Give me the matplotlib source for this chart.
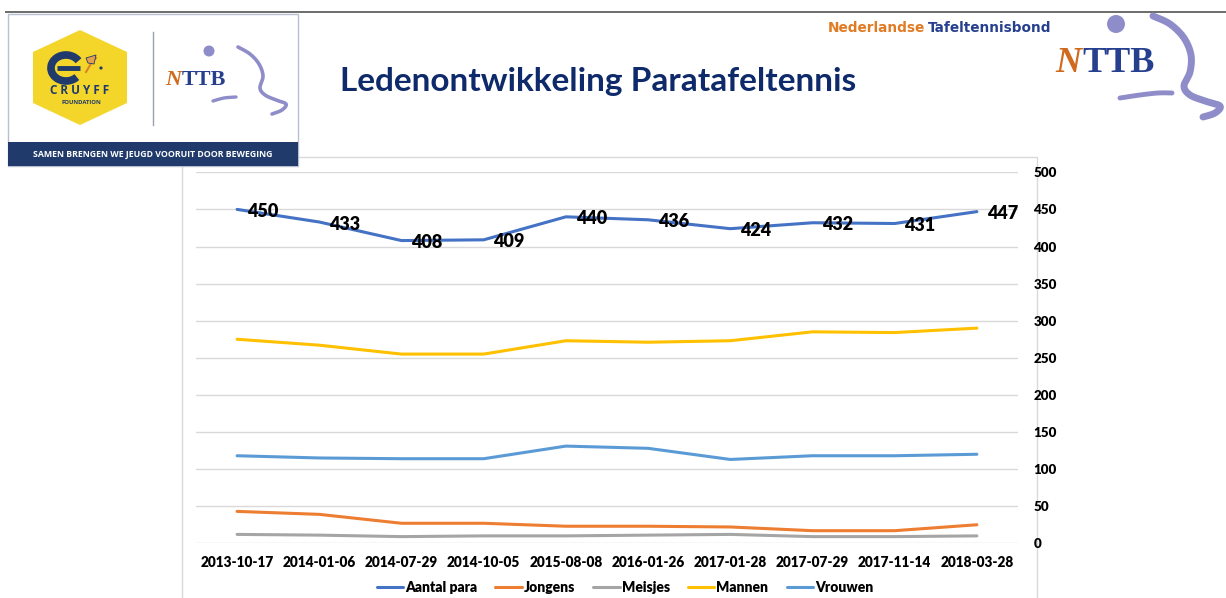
import matplotlib
matplotlib.use("Agg")
import matplotlib.pyplot as plt
from matplotlib.patches import Polygon, Rectangle, Circle, Arc
import numpy as np

# ---------------- data ----------------
dates = ["2013-10-17", "2014-01-06", "2014-07-29", "2014-10-05", "2015-08-08",
         "2016-01-26", "2017-01-28", "2017-07-29", "2017-11-14", "2018-03-28"]
aantal_para = [450, 433, 408, 409, 440, 436, 424, 432, 431, 447]
jongens = [43, 39, 27, 27, 23, 23, 22, 17, 17, 25]
meisjes = [12, 11, 9, 10, 10, 11, 12, 9, 9, 10]
mannen = [275, 267, 255, 255, 273, 271, 273, 285, 284, 290]
vrouwen = [118, 115, 114, 114, 131, 128, 113, 118, 118, 120]
series_names = ["Aantal para", "Jongens", "Meisjes", "Mannen", "Vrouwen"]
y_ticks = [0, 50, 100, 150, 200, 250, 300, 350, 400, 450, 500]
title = "Ledenontwikkeling Paratafeltennis"

colors = ["#4472C4", "#ED7D31", "#A5A5A5", "#FFC000", "#5B9BD5"]
FONT = ["Lato", "DejaVu Sans"]
W, H = 1226, 598


def smooth(pts, n=20):
    """Catmull-Rom curve through decoration points."""
    p = np.array(pts, dtype=float)
    p = np.vstack([p[0], p, p[-1]])
    out = []
    for i in range(1, len(p) - 2):
        p0, p1, p2, p3 = p[i - 1], p[i], p[i + 1], p[i + 2]
        t = np.linspace(0, 1, n)[:, None]
        seg = 0.5 * ((2 * p1) + (-p0 + p2) * t + (2 * p0 - 5 * p1 + 4 * p2 - p3) * t ** 2
                     + (-p0 + 3 * p1 - 3 * p2 + p3) * t ** 3)
        out.append(seg)
    out = np.vstack(out)
    return out[:, 0], out[:, 1]


fig = plt.figure(figsize=(W / 100, H / 100), dpi=100)
fig.patch.set_facecolor("white")

# ---------------- decoration layer (pixel coords) ----------------
bg = fig.add_axes([0, 0, 1, 1], zorder=0)
bg.set_xlim(0, W)
bg.set_ylim(H, 0)
bg.axis("off")

# top rule
bg.plot([5, W], [11.7, 11.7], color="#6b6b6b", lw=1.4, solid_capstyle="butt")

# chart frame
bg.add_patch(Rectangle((182, 157), 1037 - 182, 460, fill=False, ec="#d9d9d9", lw=1.0))

# left logo box
bg.add_patch(Rectangle((8, 14), 290, 152, fc="white", ec="#b8bfd0", lw=1.0, zorder=2))
bg.add_patch(Rectangle((8, 142), 290, 24, fc="#1f3a6b", ec="none", zorder=3))
bg.text(153, 154.5, "SAMEN BRENGEN WE JEUGD VOORUIT DOOR BEWEGING", color="white",
        fontsize=6.3, fontweight="bold", ha="center", va="center",
        family=["Open Sans", "DejaVu Sans"], zorder=4)

# Cruyff hexagon
hexv = [(80, 30), (127, 52), (127, 103), (80, 125), (33, 103), (33, 52)]
bg.add_patch(Polygon(hexv, closed=True, fc="#F4D62B", ec="none", zorder=3))
bg.add_patch(Arc((66, 68), 30, 26, theta1=40, theta2=330, color="#1f3a6b", lw=5.5, zorder=4))
bg.plot([57, 80], [68, 68], color="#1f3a6b", lw=3.5, zorder=4, solid_capstyle="butt")
bg.plot([86, 92, 96], [72, 62, 58], color="#d9822b", lw=1.5, zorder=4)
bg.add_patch(Polygon([(86, 58), (96, 55), (94, 64), (88, 63)], closed=True, fc="#e8a04a",
                     ec="#1f3a6b", lw=0.6, zorder=4))
bg.add_patch(Circle((101, 68), 1.6, fc="#1f3a6b", ec="none", zorder=4))
bg.text(80, 91, "C R U Y F F", color="#1f3a6b", fontsize=8.5, fontweight="bold",
        ha="center", va="center", family=["Open Sans", "DejaVu Sans"], zorder=4)
bg.text(81, 103, "FOUNDATION", color="#1f3a6b", fontsize=4.2, fontweight="bold",
        ha="center", va="center", family=["Open Sans", "DejaVu Sans"], zorder=4)

# divider
bg.plot([153, 153], [32, 125], color="#9aa0b0", lw=1.0, zorder=4)

# small NTTB
lav = "#8F8DC9"
bg.text(165, 80, "N", color="#D06A1E", fontsize=16, fontweight="bold", style="italic",
        ha="left", va="center", family=["Liberation Serif", "DejaVu Serif"], zorder=4)
bg.text(182, 80, "TTB", color="#26408F", fontsize=16, fontweight="bold",
        ha="left", va="center", family=["Liberation Serif", "DejaVu Serif"], zorder=4)
bg.add_patch(Circle((209, 51), 5.5, fc=lav, ec="none", zorder=4))
sx, sy = smooth([(238, 47), (250, 54), (259, 64), (263, 76), (260, 88), (265, 95),
                 (276, 100), (286, 104), (282, 110), (272, 114)])
bg.plot(sx, sy, color=lav, lw=2.6, zorder=4, solid_capstyle="round", solid_joinstyle="round")
sx, sy = smooth([(213, 101), (224, 98), (236, 97)])
bg.plot(sx, sy, color=lav, lw=2.4, zorder=4, solid_capstyle="round")

# right logo
bg.text(828, 28, "Nederlandse", color="#E07B24", fontsize=9.8, fontweight="bold",
        ha="left", va="center", family=["DejaVu Sans"], zorder=4)
bg.text(928, 28, "Tafeltennisbond", color="#26408F", fontsize=9.8, fontweight="bold",
        ha="left", va="center", family=["DejaVu Sans"], zorder=4)
bg.add_patch(Circle((1116, 24), 9, fc=lav, ec="none", zorder=3))
rx, ry = smooth([(1153, 16), (1170, 24), (1184, 38), (1191, 55), (1190, 72), (1184, 86),
                 (1190, 95), (1205, 101), (1220, 106), (1215, 113), (1203, 117)])
bg.plot(rx, ry, color=lav, lw=5, zorder=3, solid_capstyle="round", solid_joinstyle="round")
rx, ry = smooth([(1120, 98), (1140, 95), (1158, 93), (1172, 93)])
bg.plot(rx, ry, color=lav, lw=3.5, zorder=3, solid_capstyle="round")
bg.text(1055, 64, "N", color="#D06A1E", fontsize=26, fontweight="bold", style="italic",
        ha="left", va="center", family=["Liberation Serif", "DejaVu Serif"], zorder=4)
bg.text(1082, 64, "TTB", color="#26408F", fontsize=26, fontweight="bold",
        ha="left", va="center", family=["Liberation Serif", "DejaVu Serif"], zorder=4)

# title
bg.text(340, 81, title, color="#0E2A6A", fontsize=24, fontweight="bold",
        ha="left", va="center", family=FONT, zorder=4)

# ---------------- chart ----------------
left, right = 196, 1018
ybot, ytop = 543.3, 172.3
ax = fig.add_axes([left / W, 1 - ybot / H, (right - left) / W, (ybot - ytop) / H], zorder=1)
ax.patch.set_alpha(0)
x = np.arange(len(dates))
all_series = [aantal_para, jongens, meisjes, mannen, vrouwen]
handles = []
for name, vals, c in zip(series_names, all_series, colors):
    ln, = ax.plot(x, vals, color=c, lw=2.2, label=name, solid_capstyle="round",
                  solid_joinstyle="round")
    handles.append(ln)

for xi, v in zip(x, aantal_para):
    ax.annotate(str(v), (xi, v), xytext=(7, -1.5), textcoords="offset points",
                ha="left", va="center", fontsize=13, fontweight="heavy",
                color="black", family=FONT)

ax.set_xlim(-0.5, len(dates) - 0.5)
ax.set_ylim(0, 500)
ax.set_yticks(y_ticks)
ax.set_xticks(x)
ax.set_xticklabels(dates)
ax.yaxis.tick_right()
ax.tick_params(axis="y", length=0, pad=11, labelsize=9.6)
ax.tick_params(axis="x", length=0, pad=9, labelsize=9.8)
for lab in ax.get_yticklabels() + ax.get_xticklabels():
    lab.set_fontweight("heavy")
    lab.set_family(FONT)
for s in ax.spines.values():
    s.set_visible(False)
ax.grid(axis="y", color="#d9d9d9", lw=1.0)
ax.set_axisbelow(True)

leg = fig.legend(handles=handles, labels=series_names, loc="center", ncol=5,
                 bbox_to_anchor=(625 / W, 1 - 587 / H), frameon=False,
                 handlelength=1.9, handletextpad=0.15, columnspacing=1.3,
                 prop={"family": FONT, "weight": "heavy", "size": 10})

fig.savefig("out.png", dpi=100)
